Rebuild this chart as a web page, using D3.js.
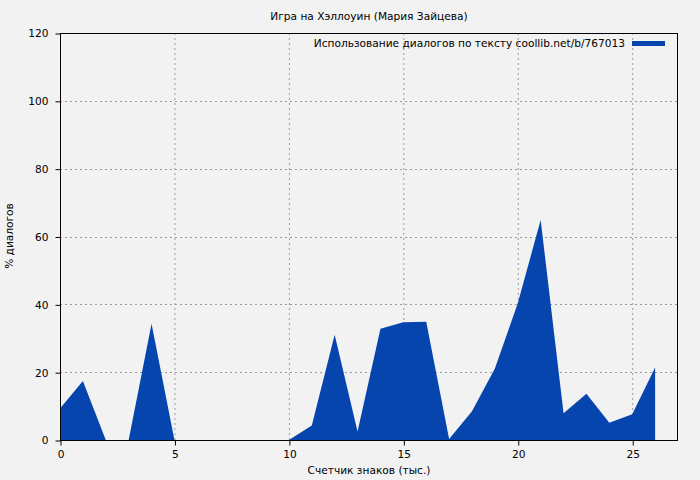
<!DOCTYPE html>
<html><head><meta charset="utf-8">
<script src="https://cdn.jsdelivr.net/npm/d3@7"></script>
<style>body{margin:0;background:#f2f2f2;}svg{display:block;font-family:"DejaVu Sans",sans-serif;}</style>
</head><body><svg id="c" width="700" height="480"></svg>
<script>
const xValues = [0,1,2,3,4,5,6,7,8,9,10,11,12,13,14,15,16,17,18,19,20,21,22,23,24,25,26];
const dialogPct = [9.3,17.4,0,0,34.3,0,0,0,0,0,0,4.3,31,2.5,32.8,34.7,34.9,0.3,8.5,21.1,40.3,64.9,7.9,13.6,5.1,7.6,21.4];
const xTicks = [0,5,10,15,20,25];
const yTicks = [0,20,40,60,80,100,120];
const title = "Игра на Хэллоуин (Мария Зайцева)";
const legendLabel = "Использование диалогов по тексту coollib.net/b/767013";
const xLabel = "Счетчик знаков (тыс.)";
const yLabel = "% диалогов";

const FS = 10.6;
const svg = d3.select("#c");
const L=60, R=678, T=33, B=440;
svg.append("rect").attr("width",700).attr("height",480).attr("fill","#f2f2f2");
const x = d3.scaleLinear().domain([0,27]).range([L,R]);
const y = d3.scaleLinear().domain([0,120]).range([B,T]);

// grid
const g = svg.append("g");
g.selectAll(".gx").data(xTicks.filter(d=>d>0)).join("line")
 .attr("x1",d=>x(d)+0.5).attr("x2",d=>x(d)+0.5).attr("y1",T).attr("y2",B)
 .attr("stroke","#999").attr("stroke-dasharray","2,3");
g.selectAll(".gy").data(yTicks.filter(d=>d>0&&d<120)).join("line")
 .attr("y1",d=>Math.round(y(d))+0.5).attr("y2",d=>Math.round(y(d))+0.5).attr("x1",L).attr("x2",R)
 .attr("stroke","#999").attr("stroke-dasharray","2,3");

// area
const area = d3.area().x((d,i)=>x(xValues[i])).y0(y(0)).y1(d=>y(d)).curve(d3.curveLinear);
svg.append("path").datum(dialogPct).attr("d",area).attr("fill","#0645ad");

// frame
svg.append("rect").attr("x",L+0.5).attr("y",T+0.5).attr("width",R-L-1).attr("height",B-T)
 .attr("fill","none").attr("stroke","#000").attr("stroke-width",1);

// axes
const xAxis = d3.axisBottom(x).tickValues(xTicks).tickSize(5).tickSizeOuter(0);
const gx = svg.append("g").attr("transform",`translate(0.5,${B+0.5})`).call(xAxis);
gx.select(".domain").remove();
gx.selectAll("text").attr("font-size",FS).attr("font-family","DejaVu Sans, sans-serif").attr("dy","0.9em").attr("fill","#000");
const yAxis = d3.axisLeft(y).tickValues(yTicks).tickSize(5).tickSizeOuter(0);
const gy = svg.append("g").attr("transform",`translate(${L+0.5},0.5)`).call(yAxis);
gy.select(".domain").remove();
gy.selectAll("text").attr("font-size",FS).attr("font-family","DejaVu Sans, sans-serif").attr("x",-12).attr("fill","#000");

// texts
svg.append("text").attr("x",369).attr("y",20).attr("text-anchor","middle").attr("font-size",FS).text(title);
svg.append("text").attr("x",369).attr("y",474).attr("text-anchor","middle").attr("font-size",FS).text(xLabel);
svg.append("text").attr("transform","translate(13,236) rotate(-90)").attr("text-anchor","middle").attr("font-size",FS).text(yLabel);
svg.append("text").attr("x",625).attr("y",47).attr("text-anchor","end").attr("font-size",FS).text(legendLabel);
svg.append("rect").attr("x",632).attr("y",41).attr("width",33).attr("height",5).attr("fill","#0645ad");
</script></body></html>
